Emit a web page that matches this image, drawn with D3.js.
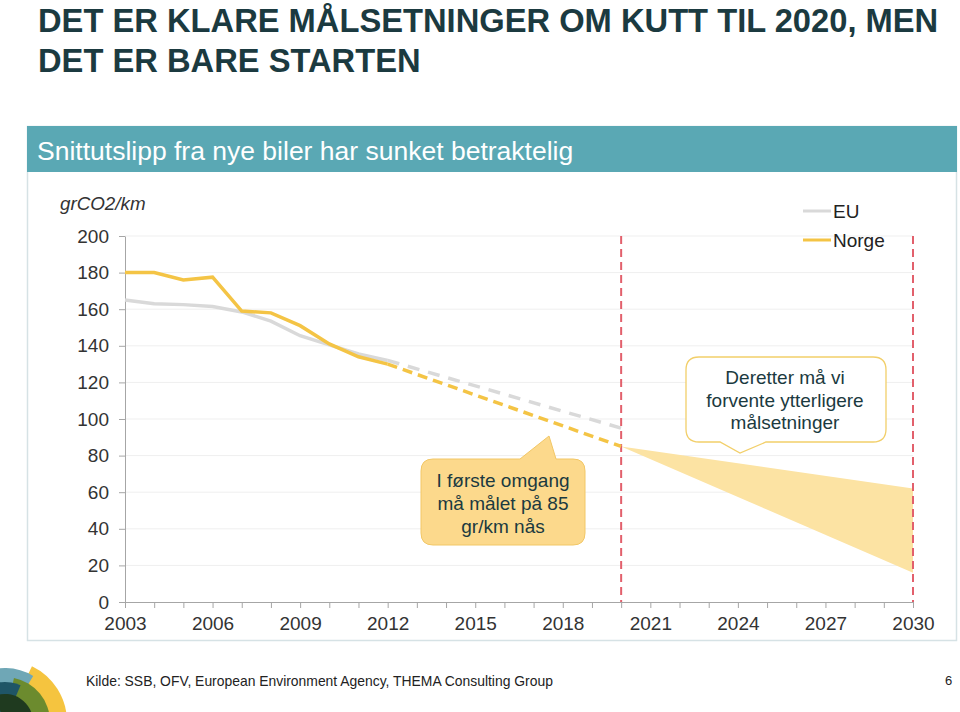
<!DOCTYPE html>
<html><head><meta charset="utf-8">
<script src="https://cdnjs.cloudflare.com/ajax/libs/d3/7.8.5/d3.min.js"></script>
<style>body{margin:0;background:#fff;} svg{display:block;font-family:"Liberation Sans",Arial,sans-serif;}</style>
</head><body><svg id="c" width="960" height="712"></svg>
<script>
const years = [2003,2004,2005,2006,2007,2008,2009,2010,2011,2012];
const norge = [180,180,176,177.5,159,158,151,141,134,130];
const eu = [165,163,162.5,161.5,158.5,153.5,145.5,140.5,135.5,132];
const targetYears = [2012,2020];
const norgeTarget = [130,85];
const euTarget = [132,95];
const wedgeYears = [2020,2030,2030];
const wedgeValues = [85,62,16];
const markerYears = [2020,2030];
const yTicks = [0,20,40,60,80,100,120,140,160,180,200];
const xTickLabels = [2003,2006,2009,2012,2015,2018,2021,2024,2027,2030];

const svg = d3.select("#c");
const dark = "#1b3a40";
const x = d3.scaleLinear().domain([2003,2030]).range([125,913]);
const y = d3.scaleLinear().domain([0,200]).range([602,236]);

// Title
svg.append("text").attr("x",38).attr("y",32).attr("font-size",32.7).attr("font-weight","bold").attr("fill",dark)
  .text("DET ER KLARE MÅLSETNINGER OM KUTT TIL 2020, MEN");
svg.append("text").attr("x",38).attr("y",72).attr("font-size",32.7).attr("font-weight","bold").attr("fill",dark)
  .text("DET ER BARE STARTEN");

// Panel
svg.append("rect").attr("x",27.5).attr("y",126.5).attr("width",929).attr("height",514).attr("fill","#fff").attr("stroke","#d6e2e5").attr("stroke-width",1.5);
svg.append("rect").attr("x",27).attr("y",126).attr("width",930).attr("height",46).attr("fill","#5aa8b4");
svg.append("text").attr("x",37).attr("y",160).attr("font-size",26.5).attr("fill","#fff").text("Snittutslipp fra nye biler har sunket betraktelig");

// Gridlines
svg.append("g").selectAll("line").data(yTicks.filter(d=>d>0)).join("line")
  .attr("x1",x(2003)).attr("x2",x(2030)).attr("y1",d=>y(d)).attr("y2",d=>y(d))
  .attr("stroke","#efefef").attr("stroke-width",1);

// Axes
const yAxis = d3.axisLeft(y).tickValues(yTicks).tickSize(6).tickSizeOuter(0).tickPadding(10);
const gy = svg.append("g").attr("transform",`translate(${x(2003)},0)`).call(yAxis);
gy.selectAll("text").attr("font-size",19).attr("fill","#333").attr("font-family","Liberation Sans, Arial, sans-serif");
gy.selectAll("line,path").attr("stroke","#a6a6a6");

const allYears = d3.range(2003,2031);
const xAxis = d3.axisBottom(x).tickValues(allYears).tickSize(6).tickSizeOuter(0).tickPadding(9)
  .tickFormat(d=> xTickLabels.includes(d)? String(d):"");
const gx = svg.append("g").attr("transform",`translate(0,${y(0)})`).call(xAxis);
gx.selectAll("text").attr("font-size",19).attr("fill","#333").attr("font-family","Liberation Sans, Arial, sans-serif");
gx.selectAll("line,path").attr("stroke","#a6a6a6");

svg.append("text").attr("x",60).attr("y",210).attr("font-size",18.8).attr("font-style","italic").attr("fill","#333").text("grCO2/km");

// Wedge
svg.append("path").datum(wedgeYears.map((d,i)=>[d,wedgeValues[i]]))
  .attr("d", d3.line().x(d=>x(d[0])).y(d=>y(d[1])).curve(d3.curveLinearClosed))
  .attr("fill","#fce3a3");

// Red dashed markers
svg.append("g").selectAll("line").data(markerYears).join("line")
  .attr("x1",d=>x(d)).attr("x2",d=>x(d)).attr("y1",y(200)).attr("y2",y(0))
  .attr("stroke","#e2606c").attr("stroke-width",2).attr("stroke-dasharray","8,5");

const line = d3.line().x((d,i)=>x(d[0])).y(d=>y(d[1]));
// EU
svg.append("path").datum(years.map((d,i)=>[d,eu[i]])).attr("d",line).attr("fill","none").attr("stroke","#d9d9d9").attr("stroke-width",3.5);
svg.append("path").datum(targetYears.map((d,i)=>[d,euTarget[i]])).attr("d",line).attr("fill","none").attr("stroke","#d9d9d9").attr("stroke-width",3.5).attr("stroke-dasharray","12,9");
// Norge
svg.append("path").datum(years.map((d,i)=>[d,norge[i]])).attr("d",line).attr("fill","none").attr("stroke","#f4c445").attr("stroke-width",3.5);
svg.append("path").datum(targetYears.map((d,i)=>[d,norgeTarget[i]])).attr("d",line).attr("fill","none").attr("stroke","#f4c445").attr("stroke-width",3.5).attr("stroke-dasharray","10,6");

// Legend
const leg = [["EU","#d9d9d9",211],["Norge","#f4c445",240]];
leg.forEach(([t,c,yy])=>{
  svg.append("line").attr("x1",803).attr("x2",831).attr("y1",yy).attr("y2",yy).attr("stroke",c).attr("stroke-width",3);
  svg.append("text").attr("x",833).attr("y",yy+7).attr("font-size",19).attr("fill","#222").text(t);
});

// Callout 1
const c1 = d3.path();
(function(){const x0=421,y0=459,x1=585,y1=545,r=12;
 c1.moveTo(x0+r,y0); c1.lineTo(520,y0); c1.lineTo(549,436); c1.lineTo(556,y0); c1.lineTo(x1-r,y0);
 c1.quadraticCurveTo(x1,y0,x1,y0+r); c1.lineTo(x1,y1-r); c1.quadraticCurveTo(x1,y1,x1-r,y1);
 c1.lineTo(x0+r,y1); c1.quadraticCurveTo(x0,y1,x0,y1-r); c1.lineTo(x0,y0+r); c1.quadraticCurveTo(x0,y0,x0+r,y0); c1.closePath();})();
svg.append("path").attr("d",c1.toString()).attr("fill","#fcd98c").attr("stroke","#f2c766").attr("stroke-width",1);
["I første omgang","må målet på 85","gr/km nås"].forEach((t,i)=>{
  svg.append("text").attr("x",503).attr("y",487+i*23).attr("text-anchor","middle").attr("font-size",19).attr("fill","#1b3a40").text(t);
});

// Callout 2
const c2 = d3.path();
(function(){const x0=686,y0=357,x1=886,y1=442,r=13;
 c2.moveTo(x0+r,y0); c2.lineTo(x1-r,y0); c2.quadraticCurveTo(x1,y0,x1,y0+r); c2.lineTo(x1,y1-r);
 c2.quadraticCurveTo(x1,y1,x1-r,y1); c2.lineTo(766,y1); c2.lineTo(740,453); c2.lineTo(720,y1);
 c2.lineTo(x0+r,y1); c2.quadraticCurveTo(x0,y1,x0,y1-r); c2.lineTo(x0,y0+r); c2.quadraticCurveTo(x0,y0,x0+r,y0); c2.closePath();})();
svg.append("path").attr("d",c2.toString()).attr("fill","#fff").attr("stroke","#f2cf6a").attr("stroke-width",1.3);
["Deretter må vi","forvente ytterligere","målsetninger"].forEach((t,i)=>{
  svg.append("text").attr("x",785).attr("y",384+i*22.5).attr("text-anchor","middle").attr("font-size",19).attr("fill","#1b3a40").text(t);
});

// Footer
svg.append("text").attr("x",86).attr("y",686).attr("font-size",13.9).attr("fill","#222").text("Kilde: SSB, OFV, European Environment Agency, THEMA Consulting Group");
svg.append("text").attr("x",945).attr("y",685).attr("font-size",13).attr("fill","#222").text("6");

// Logo
const arc = d3.arc();
const lg = svg.append("g").attr("transform","translate(5,722)");
lg.append("path").attr("d",arc({innerRadius:0,outerRadius:62,startAngle:0.45,endAngle:Math.PI/2})).attr("fill","#f5c43f");
lg.append("path").attr("d",arc({innerRadius:0,outerRadius:54,startAngle:-Math.PI/2,endAngle:0.55})).attr("fill","#6fa7b6");
lg.append("path").attr("d",arc({innerRadius:0,outerRadius:45,startAngle:0.2,endAngle:Math.PI/2})).attr("fill","#6c8b2e");
lg.append("path").attr("d",arc({innerRadius:0,outerRadius:40,startAngle:-Math.PI/2,endAngle:0.4})).attr("fill","#1f5566");
lg.append("path").attr("d",arc({innerRadius:0,outerRadius:28,startAngle:-0.4,endAngle:Math.PI/2})).attr("fill","#1f3a1f");
</script></body></html>
